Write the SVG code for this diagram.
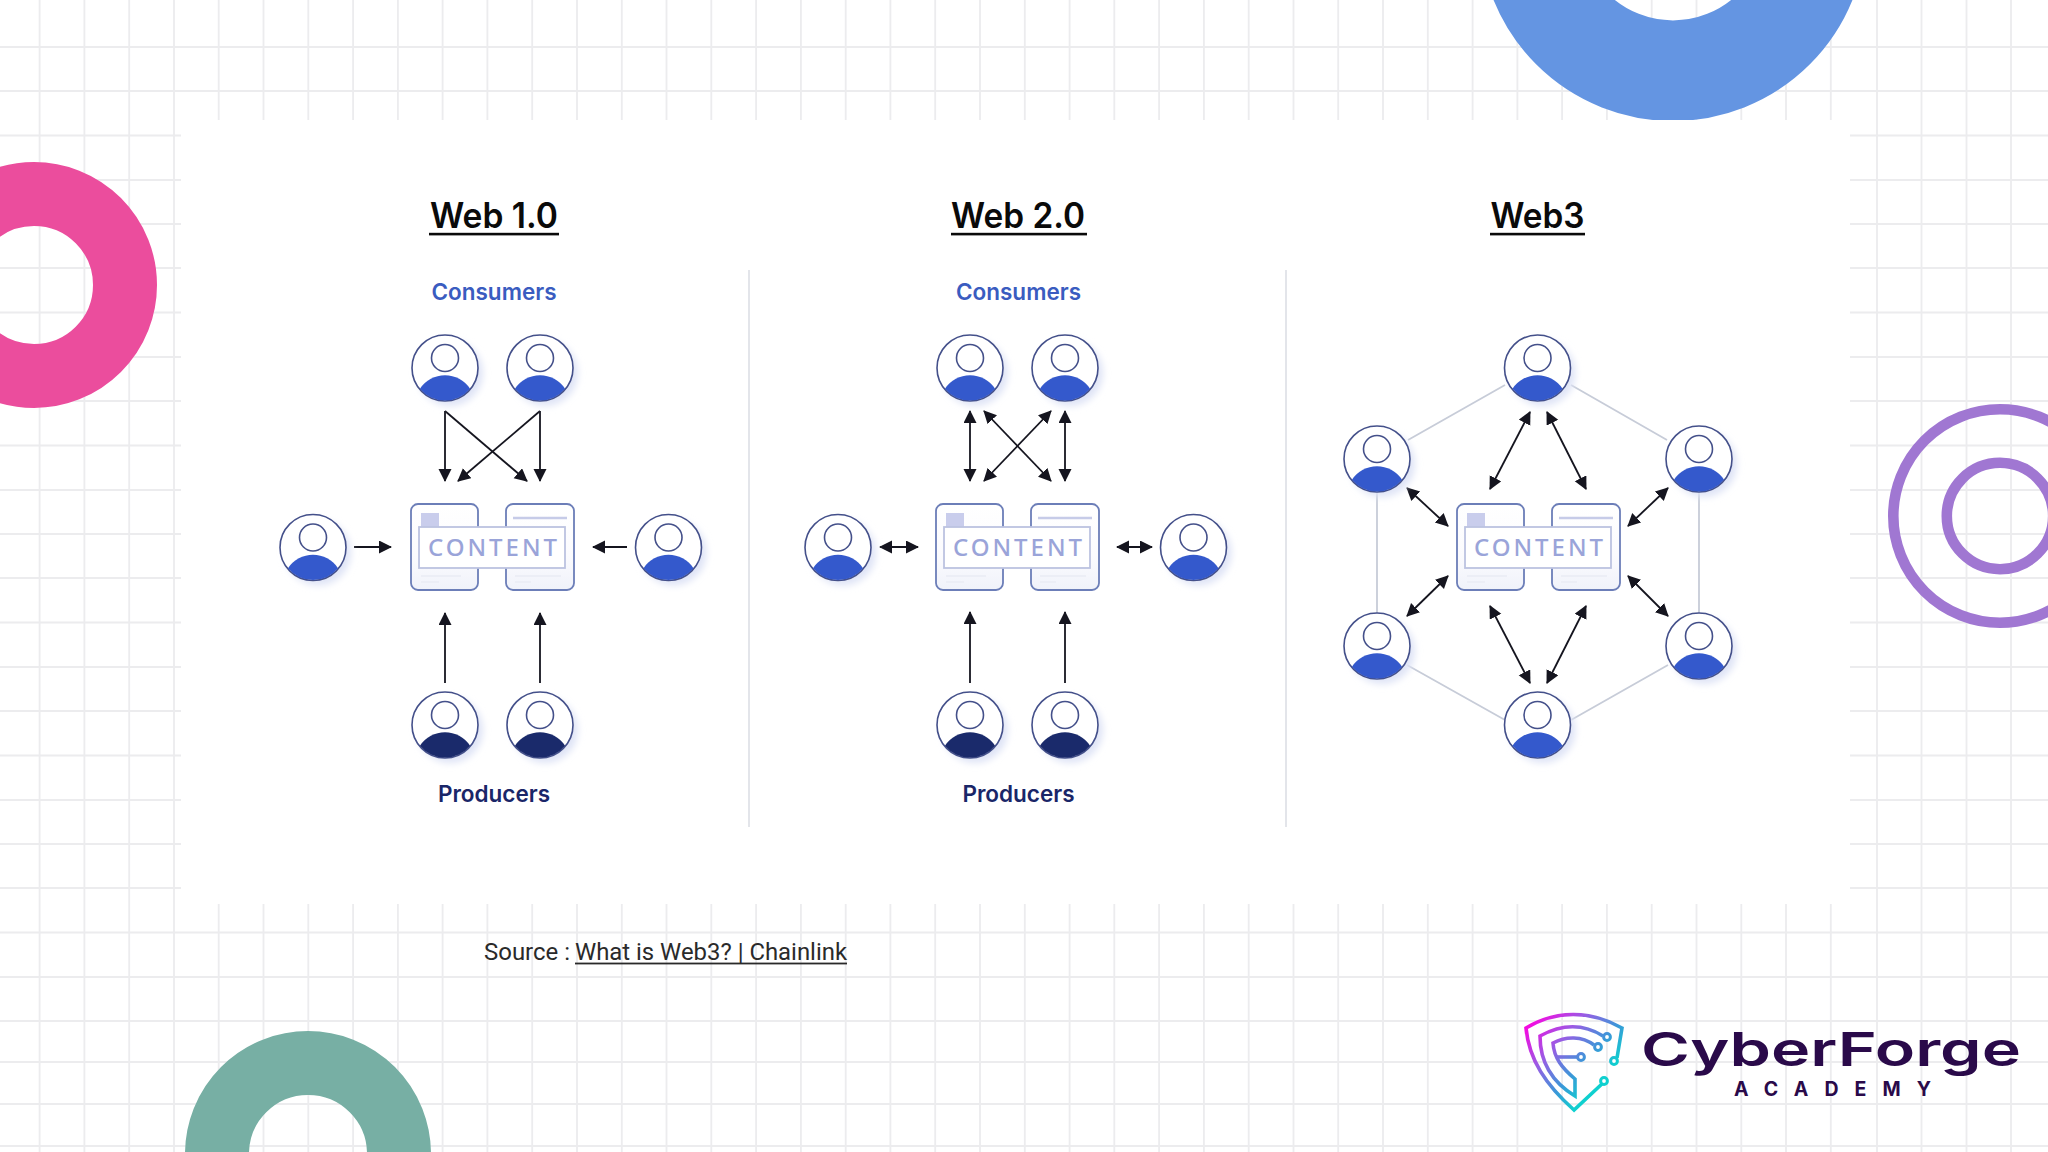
<svg xmlns="http://www.w3.org/2000/svg" width="2048" height="1152" viewBox="0 0 2048 1152">
<style>
.grid{fill:none;stroke:#ececee;stroke-width:1.8}
.ring{fill:#fff;stroke:#44508a;stroke-width:1.6}
.card{fill:url(#cardFill);stroke:#6c7eb8;stroke-width:1.8}
.banner{fill:#fff;stroke:#bcc3e0;stroke-width:1.8}
.cline{fill:none;stroke:#eceef6;stroke-width:2}
.ct{font-family:"Noto Sans",sans-serif;font-size:24px;fill:#9aa4d9;font-weight:500}
.title{font-family:Inter,sans-serif;font-size:35px;font-weight:600;fill:#0a0a0a;text-anchor:middle}
.ul{fill:#0a0a0a}
.cons{font-family:Inter,sans-serif;font-size:22.5px;font-weight:600;fill:#3a5cc0;text-anchor:middle}
.prod{font-family:Inter,sans-serif;font-size:22.5px;font-weight:600;fill:#1a2668;text-anchor:middle}
.arrow{fill:none;stroke:#15151f;stroke-width:1.8;marker-end:url(#tip)}
.both{fill:none;stroke:#15151f;stroke-width:1.8;marker-start:url(#tip);marker-end:url(#tip)}
.hex{fill:none;stroke:#c7ccd8;stroke-width:1.8}
.div{fill:none;stroke:#e3e5ea;stroke-width:2}
.src{font-family:Roboto,sans-serif;font-size:24px;fill:#2a2a2a}
.shield{fill:none;stroke:url(#logoGrad);stroke-width:3.6;stroke-linejoin:miter}
.dot{fill:#fff;stroke:url(#logoGrad);stroke-width:3}
</style>
<defs>
<linearGradient id="cardFill" x1="0" y1="0" x2="0" y2="1"><stop offset="0" stop-color="#fff"/><stop offset="0.6" stop-color="#fbfbfe"/><stop offset="1" stop-color="#f0f2fa"/></linearGradient>
<linearGradient id="logoGrad" gradientUnits="userSpaceOnUse" x1="1526" y1="1022" x2="1605" y2="1095"><stop offset="0" stop-color="#ff00e0"/><stop offset="0.35" stop-color="#9a5ce4"/><stop offset="0.65" stop-color="#3a98d8"/><stop offset="0.88" stop-color="#0fd0cf"/></linearGradient>
<filter id="soft" x="-30%" y="-30%" width="160%" height="160%"><feGaussianBlur stdDeviation="3.5"/></filter>
<marker id="tip" markerUnits="userSpaceOnUse" markerWidth="14" markerHeight="14" refX="12" refY="6.5" orient="auto-start-reverse"><path d="M0,0L13,6.5L0,13Z" fill="#15151f"/></marker>
<g id="person">
<circle cx="5" cy="5" r="33" fill="#dfe4f6" filter="url(#soft)"/>
<circle class="ring" r="33"/>
<circle class="ring" cy="-10" r="13.5"/>
<path d="M-25,20.7A30,30 0 0 1 25,20.7A32.2,32.2 0 0 1 -25,20.7Z" fill="#3459cc"/>
</g>
<g id="producer">
<circle cx="5" cy="5" r="33" fill="#dfe4f6" filter="url(#soft)"/>
<circle class="ring" r="33" stroke="#2a3060"/>
<circle class="ring" cy="-10" r="13.5"/>
<path d="M-25,20.7A30,30 0 0 1 25,20.7A32.2,32.2 0 0 1 -25,20.7Z" fill="#1a2a6b"/>
</g>
<g id="content">
<rect class="card" x="0" y="0" width="67" height="86" rx="7"/>
<rect class="card" x="95" y="0" width="68" height="86" rx="7"/>
<rect x="10" y="9" width="18" height="14" fill="#c9cdec"/>
<path d="M102,14H156" fill="none" stroke="#c6cbe8" stroke-width="2.4"/>
<path class="cline" d="M10,72H50M10,78H28M104,72H150M104,78H120"/>
<rect class="banner" x="8" y="23" width="146" height="41"/>
<text class="ct" x="17" y="51.5" textLength="129" lengthAdjust="spacing">CONTENT</text>
</g>
</defs>
<rect width="2048" height="1152" fill="#fff"/>
<g id="background">
<path class="grid" d="M39.6,0V1152M84.4,0V1152M129.2,0V1152M174,0V1152M218.7,0V1152M263.5,0V1152M308.3,0V1152M353.1,0V1152M397.9,0V1152M442.6,0V1152M487.4,0V1152M532.2,0V1152M577,0V1152M621.8,0V1152M666.5,0V1152M711.3,0V1152M756.1,0V1152M800.9,0V1152M845.7,0V1152M890.4,0V1152M935.2,0V1152M980,0V1152M1024.8,0V1152M1069.6,0V1152M1114.3,0V1152M1159.1,0V1152M1203.9,0V1152M1248.7,0V1152M1293.5,0V1152M1338.2,0V1152M1383,0V1152M1427.8,0V1152M1472.6,0V1152M1517.4,0V1152M1562.1,0V1152M1606.9,0V1152M1651.7,0V1152M1696.5,0V1152M1741.3,0V1152M1786,0V1152M1830.8,0V1152M1877,0V1152M1921.5,0V1152M1966.5,0V1152M2011,0V1152"/>
<path class="grid" d="M0,47H2048M0,91H2048M0,135.5H2048M0,180H2048M0,224H2048M0,268H2048M0,312.5H2048M0,357H2048M0,401H2048M0,445.5H2048M0,490H2048M0,534H2048M0,578H2048M0,622.5H2048M0,667H2048M0,711H2048M0,755.5H2048M0,800H2048M0,844H2048M0,888H2048M0,932.5H2048M0,977H2048M0,1021H2048M0,1062H2048M0,1104H2048M0,1146H2048"/>
<circle cx="1673" cy="-72.6" r="143.3" fill="none" stroke="#6495e2" stroke-width="100.6"/>
<rect x="181" y="120" width="1669" height="784" fill="#fff"/>
<circle cx="34" cy="285" r="91" fill="none" stroke="#eb4d9d" stroke-width="64"/>
<circle cx="308" cy="1154" r="91" fill="none" stroke="#77afa4" stroke-width="64"/>
<circle cx="2000" cy="516" r="106.7" fill="none" stroke="#a077d2" stroke-width="10.6"/>
<circle cx="2000" cy="516" r="53.2" fill="none" stroke="#a077d2" stroke-width="10.6"/>
</g>
<g id="connectors">
<path class="div" d="M749,270V827M1286,270V827"/>
<path class="hex" d="M1505,385L1408,440M1571,385L1667,440M1407,665L1505,720M1668,665L1571,720"/>
<path class="hex" stroke="#c3cde6" d="M1377,492V613M1699,492V613"/>
<path class="arrow" d="M445,411V481"/>
<path class="arrow" d="M445,411L527,481"/>
<path class="arrow" d="M540,411L458,481"/>
<path class="arrow" d="M540,411V481"/>
<path class="arrow" d="M354,547H391"/>
<path class="arrow" d="M627,547H593"/>
<path class="arrow" d="M445,683V613"/>
<path class="arrow" d="M540,683V613"/>
<path class="both" d="M970,411V481"/>
<path class="both" d="M984,411L1051,481"/>
<path class="both" d="M1051,411L984,481"/>
<path class="both" d="M1065,411V481"/>
<path class="both" d="M880,547H918"/>
<path class="both" d="M1117,547H1152"/>
<path class="arrow" d="M970,683V612"/>
<path class="arrow" d="M1065,683V612"/>
<path class="both" d="M1490,489L1530,412"/>
<path class="both" d="M1547,412L1586,489"/>
<path class="both" d="M1407,488L1448,526"/>
<path class="both" d="M1668,488L1628,526"/>
<path class="both" d="M1448,576L1407,616"/>
<path class="both" d="M1628,576L1668,616"/>
<path class="both" d="M1490,606L1530,683"/>
<path class="both" d="M1586,606L1547,683"/>
</g>
<g id="web1">
<g id="web1-title"><text class="title" x="494" y="228" textLength="128" lengthAdjust="spacingAndGlyphs">Web 1.0</text><rect class="ul" x="429" y="232.8" width="130" height="2.6"/></g>
<text class="cons" x="494" y="300">Consumers</text>
<text class="prod" x="494" y="801.5">Producers</text>
<use id="web1-consumer-1" href="#person" x="445" y="368"/>
<use id="web1-consumer-2" href="#person" x="540" y="368"/>
<use id="web1-left" href="#person" x="313" y="547.5"/>
<use id="web1-right" href="#person" x="668.5" y="547.5"/>
<use id="web1-producer-1" href="#producer" x="445" y="725"/>
<use id="web1-producer-2" href="#producer" x="540" y="725"/>
<use id="web1-content" href="#content" x="411" y="504"/>
</g>
<g id="web2">
<g id="web2-title"><text class="title" x="1018" y="228" textLength="134" lengthAdjust="spacingAndGlyphs">Web 2.0</text><rect class="ul" x="951" y="232.8" width="136" height="2.6"/></g>
<text class="cons" x="1018.5" y="300">Consumers</text>
<text class="prod" x="1018.5" y="801.5">Producers</text>
<use id="web2-consumer-1" href="#person" x="970" y="368"/>
<use id="web2-consumer-2" href="#person" x="1065" y="368"/>
<use id="web2-left" href="#person" x="838" y="547.5"/>
<use id="web2-right" href="#person" x="1193.5" y="547.5"/>
<use id="web2-producer-1" href="#producer" x="970" y="725"/>
<use id="web2-producer-2" href="#producer" x="1065" y="725"/>
<use id="web2-content" href="#content" x="936" y="504"/>
</g>
<g id="web3">
<g id="web3-title"><text class="title" x="1537.5" y="228" textLength="94" lengthAdjust="spacingAndGlyphs">Web3</text><rect class="ul" x="1490" y="232.8" width="95" height="2.6"/></g>
<use id="web3-top" href="#person" x="1537.5" y="368"/>
<use id="web3-upper-left" href="#person" x="1377" y="459"/>
<use id="web3-upper-right" href="#person" x="1699" y="459"/>
<use id="web3-lower-left" href="#person" x="1377" y="646"/>
<use id="web3-lower-right" href="#person" x="1699" y="646"/>
<use id="web3-bottom" href="#person" x="1537.5" y="725"/>
<use id="web3-content" href="#content" x="1457" y="504"/>
</g>
<g id="source">
<text class="src" x="484" y="960" textLength="86" lengthAdjust="spacingAndGlyphs">Source :</text>
<text class="src" x="575" y="960" textLength="272" lengthAdjust="spacingAndGlyphs">What is Web3? | Chainlink</text>
<rect x="575" y="962.6" width="272" height="1.8" fill="#2a2a2a"/>
</g>
<g id="logo">
<path class="shield" d="M1604,1082L1574,1110C1546,1085 1529,1060 1526,1028C1556,1010 1590,1010 1622,1028L1617,1058"/>
<path class="shield" d="M1603,1036C1584,1024 1562,1024 1540,1036C1540,1062 1552,1082 1575,1096V1079C1562,1068 1554,1058 1553,1043C1566,1036 1582,1036 1594,1045"/>
<path class="shield" d="M1556,1057H1578"/>
<circle class="dot" cx="1607" cy="1037" r="3.4"/>
<circle class="dot" cx="1598" cy="1047" r="3.4"/>
<circle class="dot" cx="1581" cy="1057" r="3.4"/>
<circle class="dot" cx="1614" cy="1061" r="3.4"/>
<circle class="dot" cx="1604" cy="1081" r="3.4"/>
<text x="1641" y="1066" font-family="Inter, sans-serif" font-size="47" font-weight="600" fill="#2a0a4a" textLength="380" lengthAdjust="spacingAndGlyphs">CyberForge</text>
<text x="1734" y="1096" font-family="Inter, sans-serif" font-size="19.5" font-weight="700" fill="#2a0a4a" textLength="197" lengthAdjust="spacing">ACADEMY</text>
</g>
</svg>
